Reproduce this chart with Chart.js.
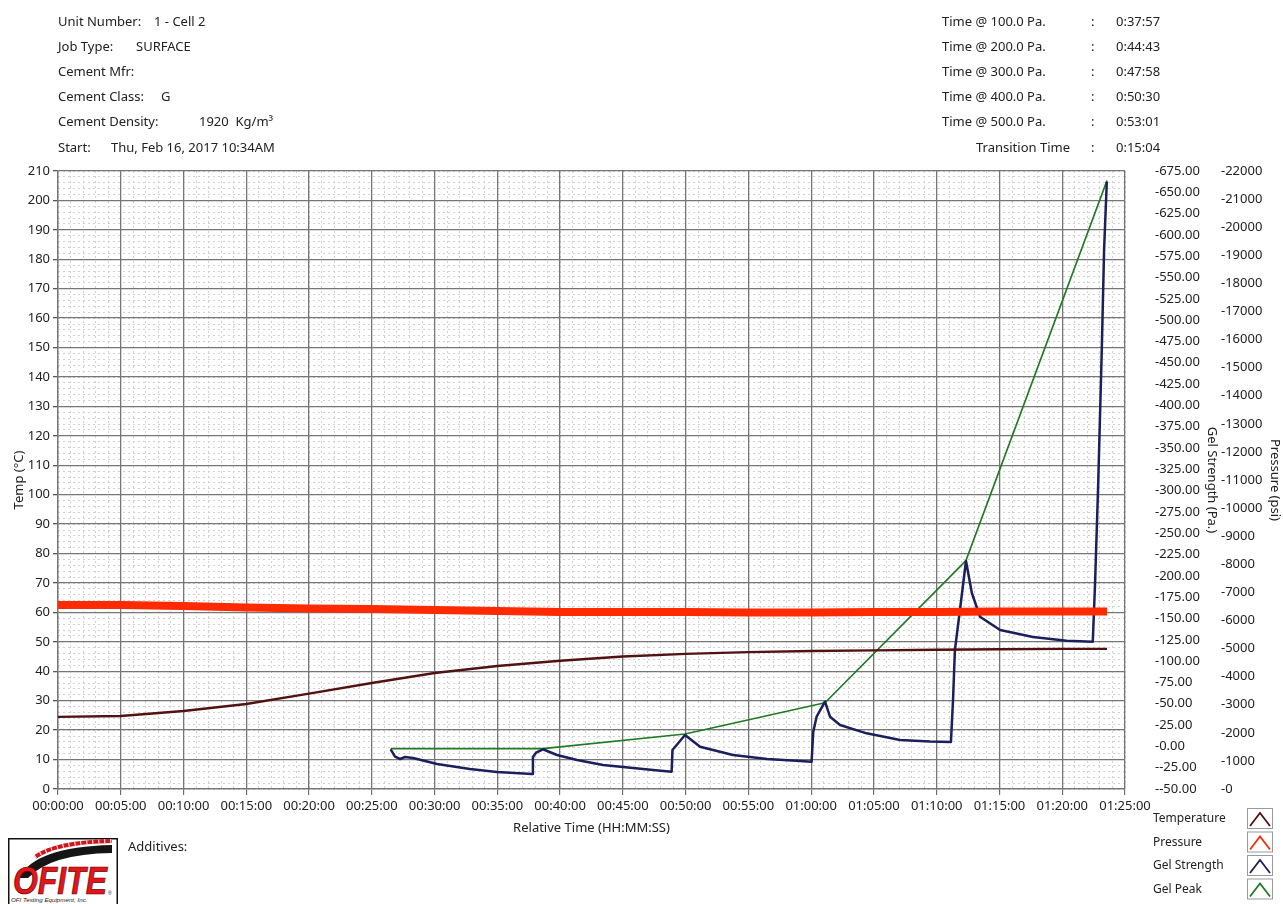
<!DOCTYPE html>
<html>
<head>
<meta charset="utf-8">
<title>Gel strength test</title>
<script src="https://cdn.jsdelivr.net/npm/chart.js@4.4.1/dist/chart.umd.min.js"></script>
<style>
  html, body { margin: 0; padding: 0; background: #fff; }
  body {
    width: 1283px; height: 904px; position: relative; overflow: hidden;
    font-family: "Noto Sans", "DejaVu Sans", sans-serif; color: #222;
  }
  #chart { position: absolute; left: 0; top: 0; }
  .txt { position: absolute; font-size: 13px; line-height: 16px; white-space: pre; }
  #logo { position: absolute; left: 8px; top: 838px; }
</style>
</head>
<body>
<canvas id="chart" width="1283" height="904"></canvas>
<div id="header"></div>
<svg id="logo" width="112" height="66" viewBox="0 0 112 66">
  <rect x="0.75" y="0.75" width="108.5" height="80" fill="#fff" stroke="#111" stroke-width="1.5"/>
  <path d="M11,40 Q26,9 104,7 L104,15 Q42,16 20,40 Z" fill="#151515"/>
  <path d="M27,19 Q48,4 104,3" fill="none" stroke="#d3141c" stroke-width="4"/>
  <path d="M27,19 Q48,4 104,3" fill="none" stroke="#fff" stroke-width="4" stroke-dasharray="1 5"/>
  <text x="5" y="56" font-family="Liberation Sans, Arial, sans-serif" font-weight="bold" font-style="italic"
        font-size="38" textLength="94" lengthAdjust="spacingAndGlyphs" fill="#e3141c" stroke="#5a0000" stroke-width="0.7">OFITE</text>
  <text x="100" y="57" font-family="Liberation Sans, Arial, sans-serif" font-size="5" fill="#222">®</text>
  <text x="3" y="64" font-family="Liberation Sans, Arial, sans-serif" font-style="italic" font-size="6.2" fill="#222">OFI Testing Equipment, Inc.</text>
</svg>
<div class="txt" style="left:128px; top:838px;">Additives:</div>

<script>
// ---------------------------------------------------------
// Header info
// ---------------------------------------------------------
const infoLabels = ["Unit Number:", "Job Type:", "Cement Mfr:", "Cement Class:", "Cement Density:", "Start:"];
const infoValues = ["1 - Cell 2", "SURFACE", "", "G", "1920  Kg/m\u00B3", "Thu, Feb 16, 2017 10:34AM"];
const infoValueX = [154, 136, 0, 161, 199, 111];

const timeLabels = ["Time @ 100.0 Pa.", "Time @ 200.0 Pa.", "Time @ 300.0 Pa.", "Time @ 400.0 Pa.", "Time @ 500.0 Pa.", "Transition Time"];
const timeValues = ["0:37:57", "0:44:43", "0:47:58", "0:50:30", "0:53:01", "0:15:04"];
const timeLabelX = [942, 942, 942, 942, 942, 976];

// ---------------------------------------------------------
// Series (time in seconds)
// ---------------------------------------------------------
const tempTimes = [0, 300, 600, 900, 1200, 1500, 1800, 2100, 2400, 2700, 3000, 3300, 3600, 3900, 4200, 4500, 4800, 5014];
const tempValues = [24.5, 24.8, 26.5, 28.9, 32.4, 36.0, 39.4, 41.8, 43.6, 45.0, 45.9, 46.5, 46.9, 47.1, 47.3, 47.5, 47.6, 47.6];

const pressureTimes = [0, 300, 600, 900, 1200, 1500, 1800, 2100, 2400, 2700, 3000, 3300, 3600, 3900, 4200, 4500, 4800, 5014];
const pressureValues = [6550, 6550, 6515, 6460, 6425, 6408, 6372, 6337, 6301, 6301, 6301, 6283, 6283, 6301, 6301, 6319, 6319, 6319];

const gelTimes = [1590, 1611, 1635, 1659, 1697, 1812, 1969, 2098, 2266, 2270, 2285, 2318,
  2385, 2481, 2605, 2701, 2844, 2933, 2937, 2949, 2997,
  3069, 3226, 3389, 3547, 3602, 3610, 3626, 3666,
  3690, 3738, 3865, 4025, 4168, 4268, 4278, 4287, 4311, 4340,
  4368, 4407, 4503, 4660, 4821, 4946, 4957, 4972, 4989, 5000, 5013];
const gelValues = [-3.4, -12.1, -14.8, -12.5, -13.6, -20.7, -26.5, -30.1, -32.4, -12.5, -7.4, -3.4,
  -10.1, -16.0, -21.8, -24.2, -27.7, -29.7, -4.2, -0.7, 13.3,
  -0.4, -10.1, -14.8, -17.2, -18.0, 17.2, 34.8, 52.4,
  34.8, 25.1, 15.3, 7.5, 5.7, 5.1, 54.4, 113.1, 160.0, 217.5,
  179.9, 152.1, 136.5, 128.3, 124.0, 122.8, 191.7, 309.0, 465.0, 582.3, 662.4];

const peakTimes = [1590, 2318, 2997, 3666, 4340, 5014];
const peakValues = [-2.7, -2.7, 14.5, 51.2, 218.0, 663.8];

const seriesLabels = ["Temperature", "Pressure", "Gel Strength", "Gel Peak"];
const seriesColors = ["#521212", "#ff2a00", "#1b1f5c", "#1f7a22"];

// ---------------------------------------------------------
// Header
// ---------------------------------------------------------
const ROW_TOP = 13;
const ROW_STEP = 25.1;

function addText(text, x, y) {
  const d = document.createElement("div");
  d.className = "txt";
  d.style.left = x + "px";
  d.style.top = y + "px";
  d.textContent = text;
  document.body.appendChild(d);
}

infoLabels.forEach((lab, i) => {
  const y = ROW_TOP + i * ROW_STEP;
  addText(lab, 58, y);
  if (infoValues[i]) addText(infoValues[i], infoValueX[i], y);
});

timeLabels.forEach((lab, i) => {
  const y = ROW_TOP + i * ROW_STEP;
  addText(lab, timeLabelX[i], y);
  addText(":", 1091, y);
  addText(timeValues[i], 1116, y);
});

// ---------------------------------------------------------
// Chart
// ---------------------------------------------------------
function hms(s) {
  const h = Math.floor(s / 3600);
  const m = Math.floor((s % 3600) / 60);
  const sec = Math.round(s % 60);
  return [h, m, sec].map(v => String(v).padStart(2, "0")).join(":");
}

function toXY(times, values) {
  return times.map((t, i) => ({ x: t, y: values[i] }));
}

const MAJOR = "#767676";
const MINOR = "#d2d2d2";
const TEXT = "#222";

const legendPlugin = {
  id: "ofiteLegend",
  afterDraw(chart) {
    const ctx = chart.ctx;
    chart.data.datasets.forEach((ds, i) => {
      const y = 819 + i * 23.5;
      ctx.save();
      ctx.font = '12px "Noto Sans"';
      ctx.fillStyle = TEXT;
      ctx.textBaseline = "middle";
      ctx.fillText(ds.label, 1153, y);
      ctx.strokeStyle = "#9a9a9a";
      ctx.lineWidth = 1;
      ctx.strokeRect(1247.5, y - 10.5, 25, 20);
      ctx.strokeStyle = ds.borderColor;
      ctx.lineWidth = 1.8;
      ctx.beginPath();
      ctx.moveTo(1250, y + 7);
      ctx.lineTo(1260, y - 6);
      ctx.lineTo(1270, y + 7);
      ctx.stroke();
      ctx.restore();
    });
  }
};

Chart.defaults.font.family = '"Noto Sans", "DejaVu Sans", sans-serif';
Chart.defaults.color = TEXT;

new Chart(document.getElementById("chart"), {
  type: "line",
  data: {
    datasets: [
      {
        label: seriesLabels[0],
        data: toXY(tempTimes, tempValues),
        yAxisID: "yTemp",
        borderColor: seriesColors[0],
        borderWidth: 2.4
      },
      {
        label: seriesLabels[1],
        data: toXY(pressureTimes, pressureValues),
        yAxisID: "yPress",
        borderColor: seriesColors[1],
        borderWidth: 8
      },
      {
        label: seriesLabels[2],
        data: toXY(gelTimes, gelValues),
        yAxisID: "yGel",
        borderColor: seriesColors[2],
        borderWidth: 2.5
      },
      {
        label: seriesLabels[3],
        data: toXY(peakTimes, peakValues),
        yAxisID: "yGel",
        borderColor: seriesColors[3],
        borderWidth: 1.7
      }
    ]
  },
  options: {
    responsive: false,
    devicePixelRatio: 1,
    animation: false,
    events: [],
    elements: {
      point: { radius: 0 },
      line: { tension: 0, fill: false, borderJoinStyle: "round" }
    },
    layout: { padding: { top: 171, left: 0, right: 0, bottom: 68 } },
    plugins: {
      legend: { display: false },
      tooltip: { enabled: false }
    },
    scales: {
      x: {
        type: "linear",
        position: "bottom",
        weight: 0,
        min: 0,
        max: 5100,
        ticks: {
          stepSize: 300,
          autoSkip: false,
          maxRotation: 0,
          padding: 3,
          font: { size: 13 },
          callback: v => hms(v)
        },
        grid: { color: MAJOR, lineWidth: 1.3, tickLength: 6, tickColor: "#555", tickWidth: 1 },
        border: { color: MAJOR, width: 1.3 },
        title: {
          display: true,
          text: "Relative Time (HH:MM:SS)",
          font: { size: 13 },
          padding: { top: 0, bottom: 0 }
        },
        afterFit: s => { s.height = 47; }
      },
      xMinor: {
        type: "linear",
        position: "bottom",
        weight: 1,
        min: 0,
        max: 5100,
        ticks: { display: false, stepSize: 60 },
        grid: { color: MINOR, lineWidth: 1, drawTicks: false, z: -2 },
        border: { display: false, dash: [2, 3] },
        afterFit: s => { s.height = 0; }
      },
      yTemp: {
        type: "linear",
        position: "left",
        weight: 0,
        min: 0,
        max: 210,
        ticks: { stepSize: 10, padding: 3, font: { size: 13 } },
        grid: { color: MAJOR, lineWidth: 1.3, tickLength: 5, tickColor: "#555" },
        border: { color: MAJOR, width: 1.3 },
        title: {
          display: true,
          text: "Temp (\u00B0C)",
          font: { size: 13 },
          padding: { top: 11, bottom: 0 }
        },
        afterFit: s => { s.width = 58; }
      },
      yMinor: {
        type: "linear",
        position: "left",
        weight: 1,
        min: 0,
        max: 210,
        ticks: { display: false, stepSize: 2 },
        grid: { color: MINOR, lineWidth: 1, drawTicks: false, z: -2 },
        border: { display: false, dash: [2, 3] },
        afterFit: s => { s.width = 0; }
      },
      yGel: {
        type: "linear",
        position: "right",
        weight: 0,
        min: -50,
        max: 675,
        ticks: {
          stepSize: 25,
          padding: 30,
          font: { size: 13 },
          callback: v => "-" + v.toFixed(2)
        },
        grid: { display: false, drawTicks: false },
        border: { display: false },
        title: {
          display: true,
          text: "Gel Strength (Pa.)",
          font: { size: 13 },
          padding: { top: 0, bottom: 0 }
        },
        afterFit: s => { s.width = 95; }
      },
      yPress: {
        type: "linear",
        position: "right",
        weight: 1,
        min: 0,
        max: 22000,
        ticks: {
          stepSize: 1000,
          padding: 1,
          font: { size: 13 },
          callback: v => "-" + v
        },
        grid: { display: false, drawTicks: false },
        border: { display: false },
        title: {
          display: true,
          text: "Pressure (psi)",
          font: { size: 13 },
          padding: { top: 0, bottom: 0 }
        },
        afterFit: s => { s.width = 63; }
      }
    }
  },
  plugins: [legendPlugin]
});
</script>
</body>
</html>
